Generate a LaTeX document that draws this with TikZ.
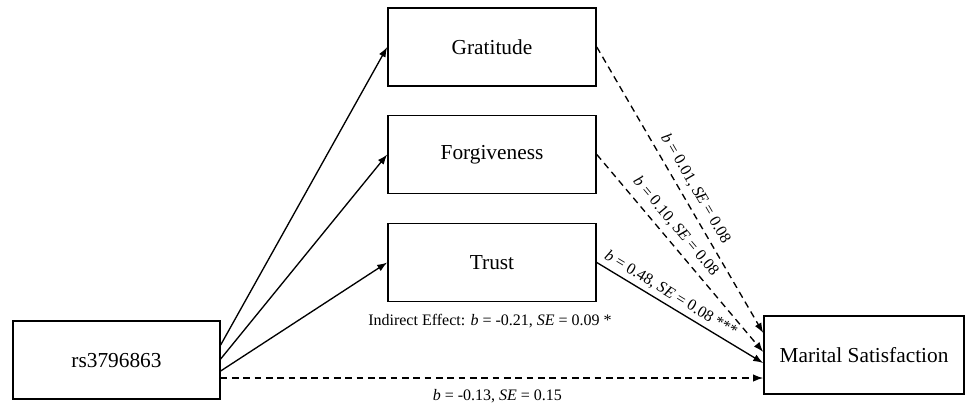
\documentclass[tikz,border=0pt]{standalone}
\usepackage{fontspec}
\setmainfont{Liberation Serif}
\usetikzlibrary{arrows.meta}

\begin{document}
\begin{tikzpicture}[x=0.75pt, y=-0.75pt,
  box/.style={draw, line width=1.2pt, minimum width=156pt, minimum height=58.5pt,
    inner sep=0pt, font=\fontsize{16}{19}\selectfont},
  arr/.style={-{Latex[length=7.5pt, width=5.5pt]}, line width=1pt},
  dasharr/.style={arr, dash pattern=on 5pt off 3.5pt},
  coef/.style={font=\fontsize{12}{14}\selectfont, inner sep=1pt}]
  \useasboundingbox (0, 0) rectangle (966, 405);

  % Predictor and outcome
  \node [box, minimum width=155pt] (snp) at (116.5, 360) {rs3796863};
  \node [box, minimum width=150pt] (sat) at (864, 355) {Marital Satisfaction};

  % Mediators
  \node [box] (grat) at (492, 47) {Gratitude};
  \node [box] (forg) at (492, 154.5) {Forgiveness};
  \node [box] (trust) at (492, 262.5) {Trust};

  % a paths
  \draw [arr] ([yshift=11.25pt]snp.east) -- (grat.west);
  \draw [arr] ([yshift=0.75pt]snp.east) -- (forg.west);
  \draw [arr] ([yshift=-8.25pt]snp.east) -- (trust.west);

  % b paths
  \draw [dasharr] (grat.east) -- node [coef, sloped, above=4pt, pos=0.52]
    {\textit{b} = 0.01, \textit{SE} = 0.08} ([yshift=16.5pt]sat.west);
  \draw [dasharr] (forg.east) -- node [coef, sloped, above=4pt, pos=0.41]
    {\textit{b} = 0.10, \textit{SE} = 0.08} ([yshift=2.25pt]sat.west);
  \draw [arr] (trust.east) -- node [coef, sloped, above=2pt, pos=0.41]
    {\textit{b} = 0.48, \textit{SE} = 0.08 ***} ([yshift=-6pt]sat.west);

  % Indirect and direct effect
  \node [coef] (ind) at (490, 321) {Indirect Effect: \textit{b} = -0.21, \textit{SE} = 0.09 *};
  \draw [dasharr] ([yshift=-13.5pt]snp.east) -- node [coef, below=7pt, pos=0.51]
    {\textit{b} = -0.13, \textit{SE} = 0.15} ([yshift=-17.25pt]sat.west);
\end{tikzpicture}
\end{document}
